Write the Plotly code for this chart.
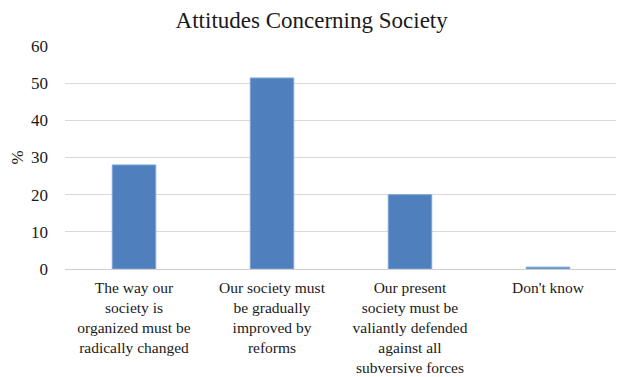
import plotly.graph_objects as go

categories = [
    "The way our<br>society is<br>organized must be<br>radically changed",
    "Our society must<br>be gradually<br>improved by<br>reforms",
    "Our present<br>society must be<br>valiantly defended<br>against all<br>subversive forces",
    "Don't know",
]
values = [28, 51.4, 20, 0.5]
y_ticks = [0, 10, 20, 30, 40, 50, 60]

FONT = "Liberation Serif, Times New Roman, serif"

# page body has an 8px default margin, so the figure is sized to fit the window
fig = go.Figure(
    go.Bar(
        x=categories,
        y=values,
        marker=dict(color="#4F80BD", line=dict(color="#7DA5D8", width=1)),
    )
)

fig.update_layout(
    width=616,
    height=369,
    margin=dict(l=57, r=7, t=38, b=108, autoexpand=False),
    paper_bgcolor="white",
    plot_bgcolor="white",
    bargap=0.685,
    showlegend=False,
    font=dict(family=FONT, size=16, color="#1a1a1a"),
    title=dict(
        text="Attitudes Concerning Society",
        x=0.493,
        xanchor="center",
        yref="container",
        y=1,
        yanchor="top",
        pad=dict(t=4),
        font=dict(family=FONT, size=23, color="#1a1a1a"),
    ),
)

fig.update_yaxes(
    range=[0, 60],
    tickvals=y_ticks,
    automargin=False,
    showgrid=True,
    gridcolor="#D9D9D9",
    gridwidth=1,
    zeroline=True,
    zerolinecolor="#CFCFCF",
    zerolinewidth=1,
    showline=False,
    ticks="",
    ticklabelstandoff=16,
    tickfont=dict(family=FONT, size=17, color="#1a1a1a"),
    title=dict(text="%", standoff=7, font=dict(family=FONT, size=17, color="#1a1a1a")),
)

fig.update_xaxes(
    automargin=False,
    showgrid=False,
    showline=False,
    ticks="",
    tickangle=0,
    ticklabelstandoff=7,
    tickfont=dict(family=FONT, size=15.5, color="#1a1a1a"),
)

fig.write_html("out.html")
